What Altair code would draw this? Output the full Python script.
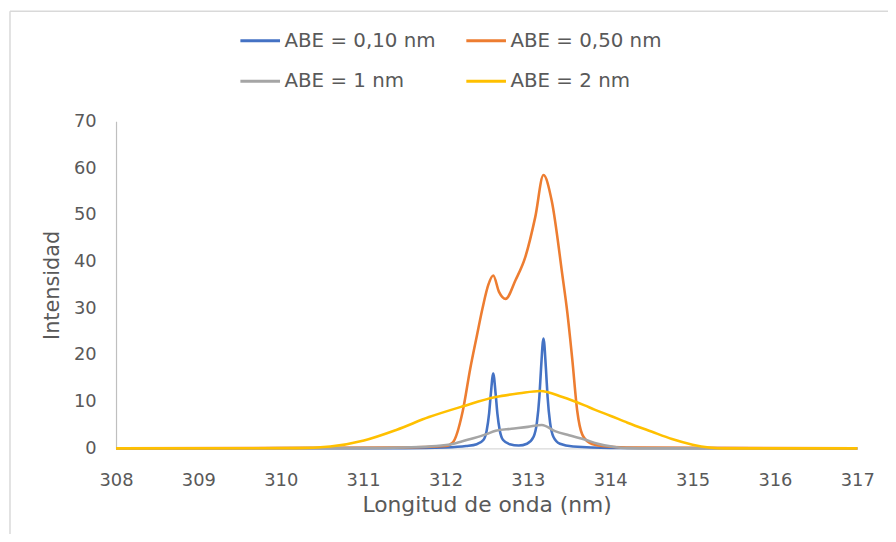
import altair as alt
import pandas as pd

# ---- data ----
series_names = ["ABE = 0,10 nm", "ABE = 0,50 nm", "ABE = 1 nm", "ABE = 2 nm"]
series_colors = ["#4472C4", "#ED7D31", "#A5A5A5", "#FFC000"]

wl_010 = [308.0, 311.5, 312.0, 312.25, 312.38, 312.46, 312.50, 312.53, 312.55, 312.58,
          312.61, 312.63, 312.66, 312.70, 312.78, 312.89, 312.99, 313.07, 313.11,
          313.14, 313.16, 313.19, 313.22, 313.24, 313.27, 313.31, 313.39, 313.55,
          314.0, 317.0]
int_010 = [0.0, 0.05, 0.2, 0.5, 0.9, 1.8, 3.8, 7.5, 11.5, 16.0,
           11.5, 7.5, 3.8, 1.8, 0.9, 0.6, 1.0, 2.5, 5.5,
           11.0, 17.0, 23.5, 17.0, 11.0, 5.5, 2.5, 1.0, 0.4,
           0.1, 0.0]

wl_050 = [308.0, 311.5, 312.0, 312.09, 312.21, 312.30, 312.38, 312.45, 312.52, 312.58,
          312.65, 312.73, 312.85, 312.97, 313.09, 313.19, 313.29, 313.42, 313.48,
          313.54, 313.60, 313.66, 313.75, 313.90, 314.2, 317.0]
int_050 = [0.0, 0.2, 0.5, 1.3, 8.0, 17.0, 24.0, 30.0, 35.0, 37.0,
           33.5, 32.0, 36.0, 41.0, 49.5, 58.5, 53.0, 37.0, 29.0,
           19.0, 8.0, 3.0, 1.2, 0.5, 0.2, 0.0]

wl_1 = [308.0, 311.0, 311.5, 311.89, 312.10, 312.28, 312.49, 312.61, 312.80, 313.00,
        313.17, 313.33, 313.50, 313.69, 313.85, 314.02, 314.21, 314.5, 317.0]
int_1 = [0.0, 0.05, 0.2, 0.5, 1.0, 1.9, 3.0, 3.8, 4.2, 4.6,
         5.0, 3.7, 2.8, 1.9, 1.0, 0.4, 0.05, 0.0, 0.0]

wl_2 = [308.0, 310.2, 310.6, 311.01, 311.41, 311.80, 312.21, 312.61, 312.90, 313.15,
        313.42, 313.69, 313.81, 314.00, 314.21, 314.50, 314.75, 315.00, 315.20, 315.40, 317.0]
int_2 = [0.0, 0.05, 0.4, 1.7, 4.0, 6.7, 9.0, 11.0, 11.8, 12.3,
         11.0, 9.2, 8.3, 7.0, 5.5, 3.6, 2.0, 0.8, 0.2, 0.0, 0.0]

x_ticks = [308, 309, 310, 311, 312, 313, 314, 315, 316, 317]
y_ticks = [0, 10, 20, 30, 40, 50, 60, 70]

rows = []
for name, wl, iv in zip(series_names, [wl_010, wl_050, wl_1, wl_2],
                        [int_010, int_050, int_1, int_2]):
    for w, v in zip(wl, iv):
        rows.append({"serie": name, "wl": w, "intensidad": v})
df = pd.DataFrame(rows)

FONT = "DejaVu Sans"
TXT = "#595959"

lines = alt.Chart(df).mark_line(strokeWidth=2.6, interpolate="monotone").encode(
    x=alt.X("wl:Q", title="Longitud de onda (nm)",
            scale=alt.Scale(domain=[308, 317], nice=False, zero=False),
            axis=alt.Axis(values=x_ticks, format="d", grid=False, ticks=False,
                          labelFlush=False, labelOverlap=False,
                          domainColor="#d9d9d9", domainWidth=1.2,
                          labelPadding=23, labelFontSize=18, labelColor=TXT,
                          labelFont=FONT, titleFont=FONT, titleFontSize=22,
                          titleFontWeight="normal", titleColor=TXT, titlePadding=6)),
    y=alt.Y("intensidad:Q", title="Intensidad",
            scale=alt.Scale(domain=[0, 70], nice=False),
            axis=alt.Axis(values=y_ticks, grid=False, ticks=False,
                          labelFlush=False,
                          domainColor="#bfbfbf", domainWidth=1.2,
                          labelPadding=20, labelFontSize=18, labelColor=TXT,
                          labelFont=FONT, titleFont=FONT, titleFontSize=21,
                          titleFontWeight="normal", titleColor=TXT, titlePadding=11)),
    color=alt.Color("serie:N", sort=series_names,
                    scale=alt.Scale(domain=series_names, range=series_colors),
                    legend=alt.Legend(title=None, orient="none", legendX=124, legendY=-103,
                                      direction="horizontal", columns=2,
                                      symbolType="stroke", symbolSize=1600,
                                      symbolStrokeWidth=3, labelFontSize=20,
                                      labelFont=FONT, labelColor=TXT, labelOffset=3,
                                      columnPadding=24, rowPadding=9)),
    order=alt.Order("wl:Q"),
)

border_left = alt.Chart(pd.DataFrame({"a": [0]})).mark_rule(
    color="#d9d9d9", strokeWidth=1.5).encode(
    x=alt.value(-107), y=alt.value(-111), y2=alt.value(440))
border_top = alt.Chart(pd.DataFrame({"a": [0]})).mark_rule(
    color="#d9d9d9", strokeWidth=1.5).encode(
    x=alt.value(-107), x2=alt.value(790), y=alt.value(-111))

chart = alt.layer(lines, border_left, border_top).properties(
    width=748, height=330,
    autosize=alt.AutoSizeParams(type="none"),
    padding={"left": 109, "top": 112, "right": 31, "bottom": 84},
).configure(background="white").configure_view(strokeWidth=0)

chart.save("out.html", embed_options={"renderer": "svg", "actions": False})
